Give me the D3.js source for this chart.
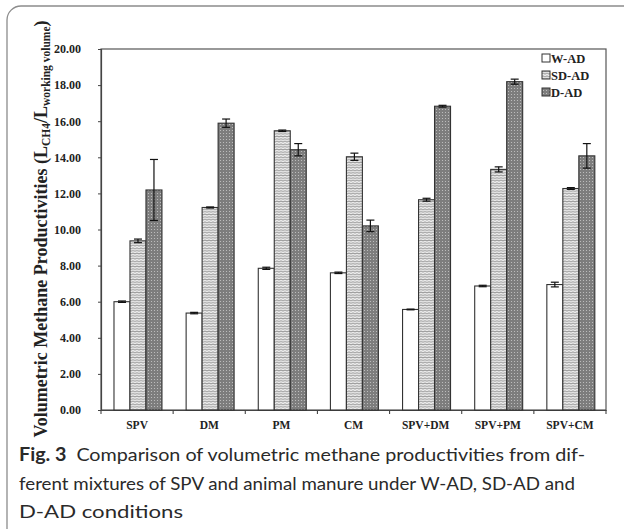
<!DOCTYPE html>
<html><head><meta charset="utf-8">
<script src="https://cdn.jsdelivr.net/npm/d3@7"></script>
<style>html,body{margin:0;padding:0;background:#fff;}svg{display:block;}</style>
</head><body>
<svg id="c" width="624" height="529"></svg>
<script>
const categories = ["SPV","DM","PM","CM","SPV+DM","SPV+PM","SPV+CM"];
const series = ["W-AD","SD-AD","D-AD"];
const wad = [6.00,5.37,7.85,7.60,5.57,6.87,6.95];
const wadErr = [0.04,0.04,0.06,0.04,0.02,0.04,0.13];
const sdad = [9.37,11.22,15.47,14.03,11.65,13.33,12.27];
const sdadErr = [0.10,0.03,0.04,0.20,0.08,0.14,0.05];
const dad = [12.19,15.89,14.42,10.20,16.83,18.19,14.08];
const dadErr = [1.69,0.23,0.34,0.32,0.05,0.14,0.68];
const yTicks = [0,2,4,6,8,10,12,14,16,18,20];

const svg = d3.select("#c");
const defs = svg.append("defs");
// SD-AD wavy pattern
const p1 = defs.append("pattern").attr("id","wave").attr("patternUnits","userSpaceOnUse")
  .attr("width",4).attr("height",2.6);
p1.append("rect").attr("width",4).attr("height",2.6).attr("fill","#efefef");
p1.append("path").attr("d","M0,1.3 Q1,0.3 2,1.3 T4,1.3").attr("fill","none").attr("stroke","#777").attr("stroke-width",0.85);
// D-AD dotted pattern
const p2 = defs.append("pattern").attr("id","dots").attr("patternUnits","userSpaceOnUse")
  .attr("width",3).attr("height",3);
p2.append("rect").attr("width",3).attr("height",3).attr("fill","#7d7d7d");
p2.append("circle").attr("cx",1.5).attr("cy",1.5).attr("r",0.55).attr("fill","#c8c8c8");

const fills = {"W-AD":"#ffffff","SD-AD":"url(#wave)","D-AD":"url(#dots)"};

// outer frame
svg.append("rect").attr("x",7).attr("y",6).attr("width",660).attr("height",560).attr("rx",14)
  .attr("fill","none").attr("stroke","#8c8c8c").attr("stroke-width",1.3);

const L=101, R=606, T=49, B=410;
const x = d3.scaleBand().domain(categories).range([L,R]).padding(0);
const xs = d3.scaleBand().domain(series).range([x.bandwidth()*0.18, x.bandwidth()*0.845]).padding(0);
const y = d3.scaleLinear().domain([0,20]).range([B,T]);

// plot frame
svg.append("rect").attr("x",L).attr("y",T).attr("width",R-L).attr("height",B-T)
  .attr("fill","none").attr("stroke","#555").attr("stroke-width",1.2);

const serif = "'Liberation Serif','Times New Roman',serif";

// y axis
const ya = svg.append("g").attr("transform",`translate(${L},0)`)
  .call(d3.axisLeft(y).tickValues(yTicks).tickSize(3).tickPadding(17).tickFormat(d3.format(".2f")));
ya.select(".domain").attr("stroke","#444").attr("stroke-width",1.2);
ya.selectAll(".tick line").attr("stroke","#444");
ya.selectAll("text").attr("font-family",serif).attr("font-weight","bold").attr("font-size",12).attr("fill","#222");

// x axis
const xa = svg.append("g").attr("transform",`translate(0,${B})`)
  .call(d3.axisBottom(x).tickSize(0).tickPadding(11));
xa.select(".domain").attr("stroke","#444").attr("stroke-width",1.2);
xa.selectAll("text").attr("font-family",serif).attr("font-weight","bold").attr("font-size",11.5).attr("fill","#222");
// category boundary ticks
const bounds = categories.map(c=>x(c)).concat([R]);
svg.append("g").selectAll("line").data(bounds).join("line")
  .attr("x1",d=>d).attr("x2",d=>d).attr("y1",B).attr("y2",B+4).attr("stroke","#444").attr("stroke-width",1.1);

// bars
const data = [];
categories.forEach((c,i)=>{
  data.push({c,s:"W-AD",v:wad[i],e:wadErr[i]});
  data.push({c,s:"SD-AD",v:sdad[i],e:sdadErr[i]});
  data.push({c,s:"D-AD",v:dad[i],e:dadErr[i]});
});
const g = svg.append("g");
g.selectAll("rect").data(data).join("rect")
  .attr("x",d=>x(d.c)+xs(d.s)).attr("width",xs.bandwidth())
  .attr("y",d=>y(d.v)).attr("height",d=>y(0)-y(d.v))
  .attr("fill",d=>fills[d.s]).attr("stroke","#333").attr("stroke-width",1.1);

// error bars
const eg = svg.append("g").attr("stroke","#111").attr("stroke-width",1.2);
data.forEach(d=>{
  const cx = x(d.c)+xs(d.s)+xs.bandwidth()/2;
  eg.append("line").attr("x1",cx).attr("x2",cx).attr("y1",y(d.v+d.e)).attr("y2",y(d.v-d.e));
  eg.append("line").attr("x1",cx-4).attr("x2",cx+4).attr("y1",y(d.v+d.e)).attr("y2",y(d.v+d.e));
  eg.append("line").attr("x1",cx-4).attr("x2",cx+4).attr("y1",y(d.v-d.e)).attr("y2",y(d.v-d.e));
});

// legend
const lg = svg.append("g").attr("transform","translate(542,58)");
series.forEach((s,i)=>{
  const row = lg.append("g").attr("transform",`translate(0,${i*17})`);
  row.append("rect").attr("x",0).attr("y",-4).attr("width",8).attr("height",8)
    .attr("fill",fills[s]).attr("stroke","#333").attr("stroke-width",1);
  row.append("text").attr("x",9).attr("y",4.5).text(s)
    .attr("font-family",serif).attr("font-weight","bold").attr("font-size",12.5).attr("fill","#222");
});

// y title
const yt = svg.append("text").attr("transform","translate(47,229) rotate(-90)")
  .attr("text-anchor","middle").attr("font-family",serif).attr("font-weight","bold")
  .attr("font-size",18).attr("fill","#222");
yt.append("tspan").text("Volumetric Methane Productivities  (L");
yt.append("tspan").attr("dy",3).attr("font-size",11.5).text("CH4");
yt.append("tspan").attr("dy",-3).text("/L");
yt.append("tspan").attr("dy",3).attr("font-size",11.5).text("working volume");
yt.append("tspan").attr("dy",-3).text(")");

// caption
const sans = "Lato,'Open Sans','Noto Sans',sans-serif";
const cap = [
  {t:"Comparison of volumetric methane productivities from dif-", y:461, w:566, fig:true},
  {t:"ferent mixtures of SPV and animal manure under W-AD, SD-AD and", y:490, w:556},
  {t:"D-AD conditions", y:518, w:164}
];
cap.forEach(l=>{
  const tx = svg.append("text").attr("x",19).attr("y",l.y).attr("font-family",sans)
    .attr("font-size",18).attr("fill","#2a2a2a").attr("textLength",l.w).attr("lengthAdjust","spacingAndGlyphs");
  if(l.fig){ tx.append("tspan").attr("font-weight","bold").text("Fig. 3"); tx.append("tspan").text("\u2002"+l.t); }
  else tx.text(l.t);
});
</script>
</body></html>
